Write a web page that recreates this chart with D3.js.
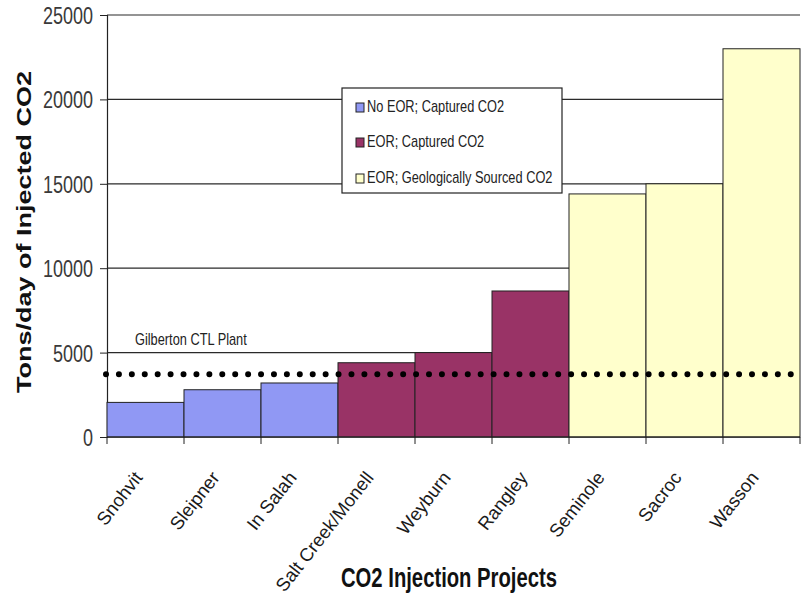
<!DOCTYPE html>
<html><head><meta charset="utf-8">
<script src="https://cdn.jsdelivr.net/npm/d3@7/dist/d3.min.js"></script>
<style>body{margin:0;background:#fff}svg{display:block}</style>
</head><body><svg id="c" width="801" height="607"></svg>
<script>
const categories = ["Snohvit","Sleipner","In Salah","Salt Creek/Monell","Weyburn","Rangley","Seminole","Sacroc","Wasson"];
const values = [2050, 2800, 3200, 4400, 5000, 8650, 14400, 15000, 23000];
const groups = [0,0,0,1,1,1,2,2,2];
const seriesNames = ["No EOR; Captured CO2","EOR; Captured CO2","EOR; Geologically Sourced CO2"];
const seriesColors = ["#9098F4","#993366","#FFFFCC"];
const yTicks = [0,5000,10000,15000,20000,25000];
const refValue = 3720;
const refLabel = "Gilberton CTL Plant";

const FONT = "Liberation Sans, Arial, sans-serif";
const SX = 0.75;
const svg = d3.select("#c");
const m = {l:107, r:800, t:15, b:437};
const x = d3.scaleBand().domain(categories).range([m.l, m.r]).padding(0);
const y = d3.scaleLinear().domain([0,25000]).range([m.b, m.t]);

// gridlines
svg.append("g").selectAll("line").data(yTicks).join("line")
  .attr("x1", m.l).attr("x2", m.r)
  .attr("y1", d=>y(d)).attr("y2", d=>y(d))
  .attr("stroke", "#2a2a2a").attr("stroke-width", 1.2);

// y axis
const ya = svg.append("g").attr("transform",`translate(${m.l},0)`)
  .call(d3.axisLeft(y).tickValues(yTicks).tickSize(7).tickFormat(""));
ya.select(".domain").attr("stroke","#222").attr("stroke-width",1.2);
ya.selectAll(".tick line").attr("stroke","#222");
svg.append("g").selectAll("text").data(yTicks).join("text")
  .attr("transform", d=>`translate(93,${y(d)+9}) scale(${SX},1)`)
  .attr("text-anchor","end").attr("font-family",FONT).attr("font-size",24).attr("fill","#3a3a3a")
  .text(d=>d3.format("d")(d));

// bars
svg.append("g").selectAll("rect").data(categories).join("rect")
  .attr("x", d=>x(d)).attr("width", x.bandwidth())
  .attr("y", (d,i)=>y(values[i])).attr("height", (d,i)=>y(0)-y(values[i]))
  .attr("fill", (d,i)=>seriesColors[groups[i]])
  .attr("stroke", "#222").attr("stroke-width", 1);

// x axis ticks at boundaries
const bounds = categories.map(c=>x(c)).concat([m.r]);
svg.append("g").selectAll("line").data(bounds).join("line")
  .attr("x1", d=>d).attr("x2", d=>d).attr("y1", m.b).attr("y2", m.b+7)
  .attr("stroke","#222");
svg.append("line").attr("x1",m.l).attr("x2",m.r).attr("y1",m.b).attr("y2",m.b).attr("stroke","#222").attr("stroke-width",1.2);

// x labels
svg.append("g").selectAll("text").data(categories).join("text")
  .attr("transform", d=>`translate(${x(d)+x.bandwidth()/2-2},${m.b+41}) rotate(-52)`)
  .attr("text-anchor","end")
  .attr("font-family",FONT).attr("font-size",18.5).attr("fill","#1a1a1a")
  .text(d=>d);

// reference dotted line
svg.append("line")
  .attr("x1", 106).attr("x2", 793)
  .attr("y1", y(refValue)).attr("y2", y(refValue))
  .attr("stroke","#000").attr("stroke-width",6).attr("stroke-linecap","round")
  .attr("stroke-dasharray","0 12.92");
svg.append("text").attr("transform",`translate(135,345) scale(0.8,1)`)
  .attr("font-family",FONT).attr("font-size",16).attr("fill","#222")
  .text(refLabel);

// legend
const lg = svg.append("g");
lg.append("rect").attr("x",342).attr("y",88).attr("width",220).attr("height",105)
  .attr("fill","#fff").attr("stroke","#222").attr("stroke-width",1.2);
const ly = [112, 147, 183];
seriesNames.forEach((s,i)=>{
  lg.append("rect").attr("x",356).attr("y",ly[i]-9).attr("width",8).attr("height",9)
    .attr("fill",seriesColors[i]).attr("stroke","#222").attr("stroke-width",1);
  lg.append("text").attr("transform",`translate(367,${ly[i]}) scale(0.8,1)`)
    .attr("font-family",FONT).attr("font-size",16).attr("fill","#222")
    .text(s);
});

// axis titles
svg.append("text").attr("transform",`translate(31,232) scale(${SX},1) rotate(-90)`)
  .attr("text-anchor","middle").attr("font-family",FONT)
  .attr("font-weight","bold").attr("font-size",27).attr("fill","#111")
  .text("Tons/day of Injected CO2");
svg.append("text").attr("transform",`translate(449,587) scale(${SX},1)`)
  .attr("text-anchor","middle").attr("font-family",FONT)
  .attr("font-weight","bold").attr("font-size",27).attr("fill","#111")
  .text("CO2 Injection Projects");
</script></body></html>
